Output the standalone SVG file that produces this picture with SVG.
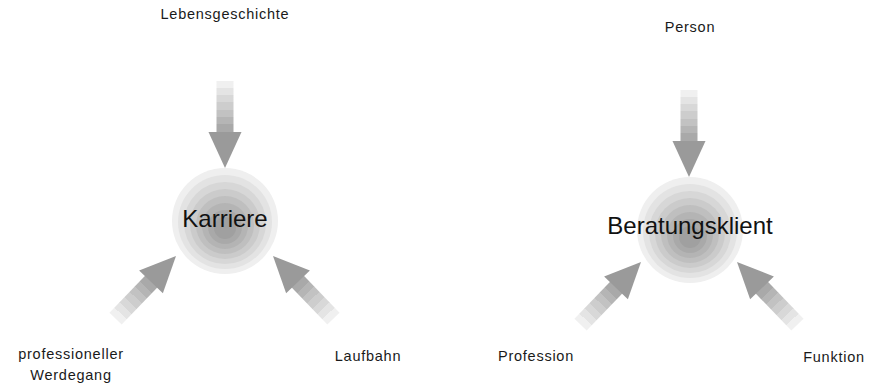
<svg xmlns="http://www.w3.org/2000/svg" xmlns:xlink="http://www.w3.org/1999/xlink" width="879" height="385" viewBox="0 0 879 385">
  <style>
    .lbl { font-family: "Liberation Sans", Arial, sans-serif; font-size: 14.5px; letter-spacing: 0.75px; fill: #1a1a1a; text-anchor: middle; }
    .core { font-family: "Liberation Sans", Arial, sans-serif; font-size: 24px; fill: #111; text-anchor: middle; }
    .head { fill: #9a9a9a; }
  </style>
  <defs>
    <!-- stepped shading of an arrow shaft, light at the tail -->
    <linearGradient id="shaft" gradientUnits="userSpaceOnUse" x1="-87" y1="0" x2="-36" y2="0">
      <stop offset="0" stop-color="#f0f0f0"/><stop offset="0.14" stop-color="#f0f0f0"/>
      <stop offset="0.14" stop-color="#e4e4e4"/><stop offset="0.28" stop-color="#e4e4e4"/>
      <stop offset="0.28" stop-color="#d8d8d8"/><stop offset="0.42" stop-color="#d8d8d8"/>
      <stop offset="0.42" stop-color="#cdcdcd"/><stop offset="0.57" stop-color="#cdcdcd"/>
      <stop offset="0.57" stop-color="#c2c2c2"/><stop offset="0.71" stop-color="#c2c2c2"/>
      <stop offset="0.71" stop-color="#b5b5b5"/><stop offset="0.85" stop-color="#b5b5b5"/>
      <stop offset="0.85" stop-color="#a9a9a9"/><stop offset="1" stop-color="#a9a9a9"/>
    </linearGradient>
    <!-- block arrow, tip at origin, pointing along +x -->
    <g id="arrow">
      <rect x="-87" y="-8.5" width="52" height="17" fill="url(#shaft)"/>
      <polygon class="head" points="-36,-16.5 0,0 -36,16.5"/>
    </g>
    <!-- ringed disc shading -->
    <g id="disc">
      <circle cx="0" cy="0" r="53" fill="#efefef"/>
      <circle cx="0" cy="1" r="47" fill="#e3e3e3"/>
      <circle cx="0" cy="2" r="41" fill="#d7d7d7"/>
      <circle cx="0" cy="3" r="35" fill="#cbcbcb"/>
      <circle cx="0" cy="4" r="29" fill="#bfbfbf"/>
      <circle cx="0" cy="5" r="23" fill="#b4b4b4"/>
      <circle cx="0" cy="6" r="17" fill="#a9a9a9"/>
      <circle cx="0" cy="7" r="11" fill="#a0a0a0"/>
    </g>
  </defs>

  <rect width="879" height="385" fill="#ffffff"/>

  <!-- arrows pointing into the two discs -->
  <g id="connectors">
    <use xlink:href="#arrow" transform="translate(225,168) rotate(90)"/>
    <use xlink:href="#arrow" transform="translate(176,256) rotate(-46)"/>
    <use xlink:href="#arrow" transform="translate(273,256) rotate(-134)"/>
    <use xlink:href="#arrow" transform="translate(689,177) rotate(90)"/>
    <use xlink:href="#arrow" transform="translate(641,262) rotate(-46)"/>
    <use xlink:href="#arrow" transform="translate(737,262) rotate(-134)"/>
  </g>

  <g id="karriere">
    <use xlink:href="#disc" transform="translate(225,221)"/>
    <text class="core" x="225" y="227">Karriere</text>
  </g>
  <g id="lebensgeschichte"><text class="lbl" x="225" y="19">Lebensgeschichte</text></g>
  <g id="werdegang">
    <text class="lbl" x="71" y="359">professioneller</text>
    <text class="lbl" x="71" y="380">Werdegang</text>
  </g>
  <g id="laufbahn"><text class="lbl" x="368" y="361">Laufbahn</text></g>

  <g id="beratungsklient">
    <use xlink:href="#disc" transform="translate(690,230)"/>
    <text class="core" x="690" y="234">Beratungsklient</text>
  </g>
  <g id="person"><text class="lbl" x="690" y="32">Person</text></g>
  <g id="profession"><text class="lbl" x="536" y="361">Profession</text></g>
  <g id="funktion"><text class="lbl" x="834" y="362">Funktion</text></g>
</svg>
